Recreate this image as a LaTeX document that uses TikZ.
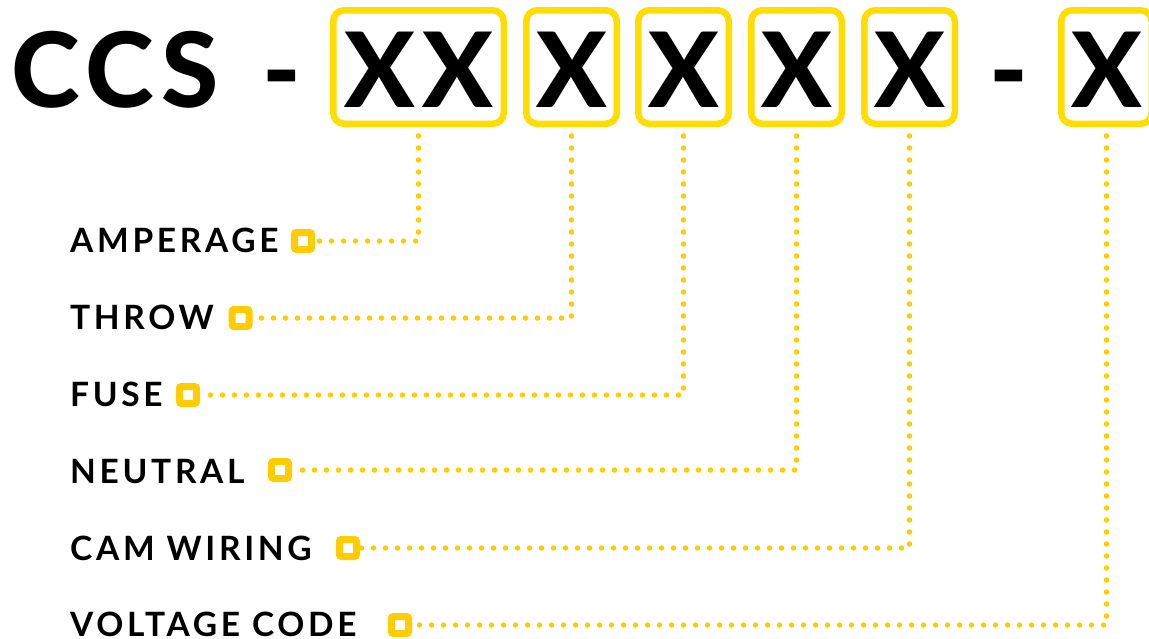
\documentclass[tikz,border=0pt]{standalone}
\usepackage{fontspec}
\setmainfont{Lato}
\newfontfamily\headfont[LetterSpace=7]{Lato Heavy}
\newfontfamily\labfont[LetterSpace=11]{Lato}
\usetikzlibrary{calc}

\definecolor{boxyellow}{HTML}{FFDD00}
\definecolor{dotyellow}{HTML}{FFCC00}

\begin{document}
\begin{tikzpicture}[x=1pt,y=-1pt,
                    head/.style={font=\headfont\fontsize{104}{104}\selectfont,inner sep=0pt,anchor=base},
                    box/.style={draw=boxyellow,line width=6.5pt,rounded corners=11pt,fill=white,
                                minimum height=113.5pt,minimum width=90.5pt,inner sep=0pt},
                    lab/.style={font=\labfont\bfseries\fontsize{33.5}{33.5}\selectfont,inner sep=0pt,anchor=base west},
                    marker/.style={draw=dotyellow,line width=7pt,rounded corners=2pt,fill=white,
                                 minimum size=17pt,inner sep=0pt},
                    dots/.style={draw=dotyellow,line width=5.5pt,line cap=round,dash pattern=on 0pt off 12pt,
                                 shorten <=9pt}]
  \useasboundingbox (0,0) rectangle (1149,638);

  % code boxes
  \node[box,minimum width=170.5pt] (A1) at (418.5,67) {};
  \node[box] (A2) at (571.5,67) {};
  \node[box] (A3) at (683.5,67) {};
  \node[box] (A4) at (796.5,67) {};
  \node[box] (A5) at (909.5,67) {};
  \node[box] (A6) at (1106.5,67) {};

  % code text
  \node[head,anchor=base west] (T0) at (11,107) {CCS};
  \node[head] (D1) at (281.5,107) {-};
  \node[head] (T1) at (A1 |- 0,107) {XX};
  \node[head] (T2) at (A2 |- 0,107) {X};
  \node[head] (T3) at (A3 |- 0,107) {X};
  \node[head] (T4) at (A4 |- 0,107) {X};
  \node[head] (T5) at (A5 |- 0,107) {X};
  \node[head] (D2) at (1008.5,107) {-};
  \node[head] (T6) at (A6 |- 0,107) {X};

  % labels
  \node[lab] (L1) at (70,252) {AMPERAGE};
  \node[lab] (L2) at (70,329) {THROW};
  \node[lab] (L3) at (70,406) {FUSE};
  \node[lab] (L4) at (70,483) {NEUTRAL};
  \node[lab] (L5) at (70,560) {CAM WIRING};
  \node[lab] (L6) at (70,636) {VOLTAGE CODE};

  % markers
  \node[marker] (S1) at (303,241) {};
  \node[marker] (S2) at (240.5,318) {};
  \node[marker] (S3) at (188,395) {};
  \node[marker] (S4) at (280,470) {};
  \node[marker] (S5) at (348,548) {};
  \node[marker] (S6) at (400,625) {};

  % leader lines
  \foreach \i in {1,...,6}
    \draw[dots] (A\i.south) |- (S\i.east);
\end{tikzpicture}
\end{document}
